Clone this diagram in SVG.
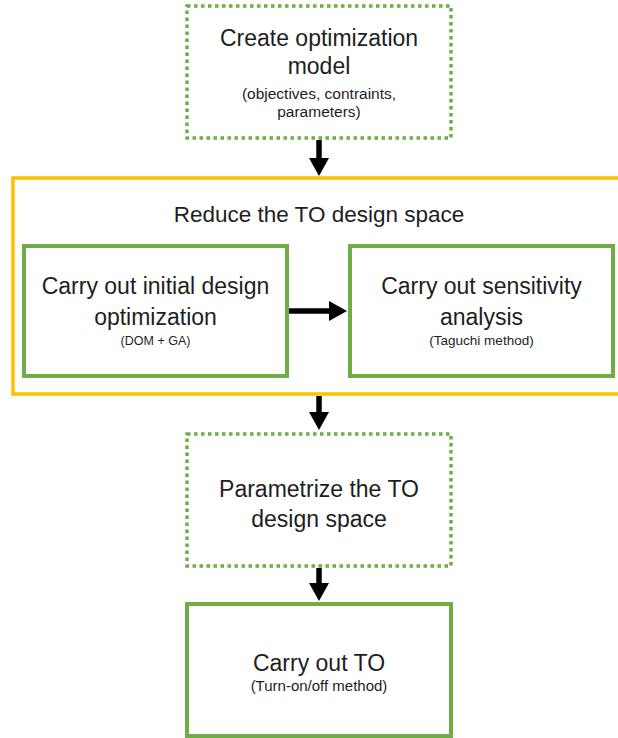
<svg xmlns="http://www.w3.org/2000/svg" width="618" height="738" viewBox="0 0 618 738">
  <style>
    .dotted { fill: #ffffff; stroke: #70AD47; stroke-width: 3.5; stroke-dasharray: 3.5 3.5; }
    .solid { fill: #ffffff; stroke: #70AD47; stroke-width: 4; }
    .group { fill: none; stroke: #FFC000; stroke-width: 3.5; }
    .t { font-family: "Liberation Sans", Arial, sans-serif; fill: #1e1e1e; text-anchor: middle; }
    .big { font-size: 23px; }
    .conn { stroke: #000000; stroke-width: 5.5; fill: none; marker-end: url(#head); }
  </style>
  <defs>
    <marker id="head" markerUnits="userSpaceOnUse" markerWidth="18" markerHeight="20" refX="1" refY="10" orient="auto">
      <path d="M0,0 L18,10 L0,20 Z" fill="#000000"/>
    </marker>
  </defs>
  <rect width="618" height="738" fill="#ffffff"/>

  <g id="reduce-group">
    <rect class="group" x="13" y="178" width="615" height="216"/>
    <text class="t" x="319" y="222" font-size="22.5">Reduce the TO design space</text>
  </g>

  <g id="create-model">
    <rect class="dotted" x="187" y="6" width="264" height="132"/>
    <text class="t big" x="319" y="46">Create optimization</text>
    <text class="t big" x="319" y="74">model</text>
    <text class="t" x="319" y="99" font-size="15.5">(objectives, contraints,</text>
    <text class="t" x="319" y="117" font-size="15.5">parameters)</text>
  </g>

  <g id="initial-optimization">
    <rect class="solid" x="24" y="246" width="263" height="130"/>
    <text class="t big" x="155.5" y="294">Carry out initial design</text>
    <text class="t big" x="155.5" y="325">optimization</text>
    <text class="t" x="155.5" y="345" font-size="12.5">(DOM + GA)</text>
  </g>

  <g id="sensitivity-analysis">
    <rect class="solid" x="350" y="246" width="263" height="130"/>
    <text class="t big" x="481.5" y="294">Carry out sensitivity</text>
    <text class="t big" x="481.5" y="325">analysis</text>
    <text class="t" x="481.5" y="345" font-size="13.5">(Taguchi method)</text>
  </g>

  <g id="parametrize">
    <rect class="dotted" x="187" y="434" width="264" height="132"/>
    <text class="t big" x="319" y="497">Parametrize the TO</text>
    <text class="t big" x="319" y="527">design space</text>
  </g>

  <g id="carry-out-to">
    <rect class="solid" x="187" y="604" width="264" height="132"/>
    <text class="t big" x="319" y="671">Carry out TO</text>
    <text class="t" x="319" y="691" font-size="15">(Turn-on/off method)</text>
  </g>

  <g id="connectors">
    <line class="conn" x1="319" y1="140" x2="319" y2="159"/>
    <line class="conn" x1="289" y1="311" x2="330" y2="311"/>
    <line class="conn" x1="319" y1="396" x2="319" y2="413"/>
    <line class="conn" x1="319" y1="568" x2="319" y2="584"/>
  </g>
</svg>
